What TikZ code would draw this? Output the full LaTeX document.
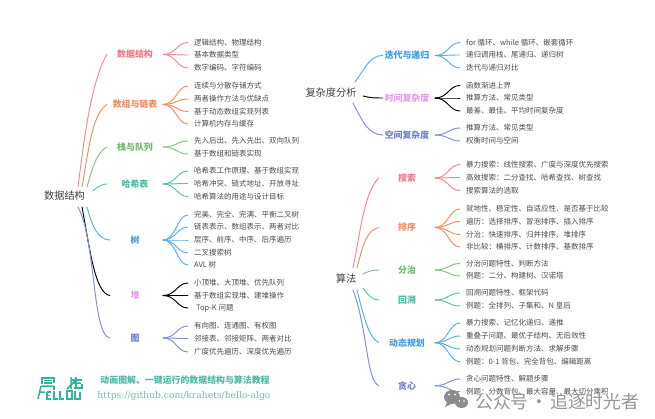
\documentclass[tikz,border=0pt]{standalone}
\usepackage{fontspec}
\setmainfont{Noto Sans CJK SC}
\newfontfamily\urlfont{DejaVu Serif}
\definecolor{red}{HTML}{F58A90}\definecolor{redT}{HTML}{F07C89}
\definecolor{ora}{HTML}{F68F62}\definecolor{oraT}{HTML}{F68C5E}
\definecolor{gre}{HTML}{85C481}\definecolor{greT}{HTML}{6DBB6A}
\definecolor{tea}{HTML}{5CC0AE}\definecolor{teaT}{HTML}{4DBAA6}
\definecolor{blu}{HTML}{5AAEE6}\definecolor{bluT}{HTML}{3F9BE0}
\definecolor{pin}{HTML}{E9ACEF}\definecolor{pinT}{HTML}{E39EEB}
\definecolor{ind}{HTML}{8090DE}\definecolor{indT}{HTML}{6C7FD8}
\definecolor{txt}{HTML}{4C4C4C}\definecolor{logo}{HTML}{2FB69C}
\definecolor{wm}{HTML}{8C8C8C}
\tikzset{
  branch/.style={line width=0.95pt,line cap=round},
  leaf/.style={anchor=west,font=\fontsize{7.5}{9}\selectfont,text=txt,inner xsep=6pt,inner ysep=0pt,text height=6.6pt,text depth=0.9pt},
  cat/.style={font=\bfseries\fontsize{8.9}{11}\selectfont,inner sep=0pt,text height=7.7pt,text depth=1.1pt,align=center},
  root/.style={font=\fontsize{10.2}{12}\selectfont,text=txt!85!black,inner sep=0pt},
  logoline/.style={draw=logo,line width=1.5pt,line cap=butt,line join=miter},
  wmshape/.style={fill=wm,draw=none}
}
\newcount\leafc
\newcommand{\Cat}[7]{\node[cat,text=#6T,minimum width=#4pt] (#1) at (#2,#3) {#7};\coordinate (#1f) at (#5,#3);}
\newcommand{\Leaf}[5]{\global\advance\leafc by 1
  \node[leaf] (l\the\leafc) at (#3,#4) {#5};
  \draw[branch,#2] (#1f) .. controls +(13,0) and +(-11,0) .. (l\the\leafc.west);}
\begin{document}
\begin{tikzpicture}[x=1pt,y=-1pt]
\useasboundingbox (0,0) rectangle (655,419);
\fill[white] (0,0) rectangle (655,419);
% ---------- left tree
\node[root] (rootL) at (64.5,196) {数据结构};
\coordinate (La) at (78,187);\coordinate (Lb) at (82,187);\coordinate (Lc) at (87,187);\coordinate (Ld) at (93,191);
\coordinate (Le) at (87,207);\coordinate (Lf) at (82,207);\coordinate (Lg) at (78,207);
\Cat{c1}{135}{54.5}{56}{163}{red}{数据结构}
\Cat{c2}{135}{104.5}{56}{163}{ora}{数组与链表}
\Cat{c3}{135}{147}{56}{163}{gre}{栈与队列}
\Cat{c4}{135}{184}{56}{163}{tea}{哈希表}
\Cat{c5}{135}{240}{50}{163}{blu}{树}
\Cat{c6}{135}{295.5}{50}{163}{pin}{堆}
\Cat{c7}{135}{338}{50}{163}{ind}{图}
\draw[branch,red] (La) .. controls (84,140) and (91,82) .. (c1.west);
\draw[branch,ora] (Lb) .. controls (89,148) and (92,115) .. (c2.west);
\draw[branch,gre] (Lc) .. controls (92,170) and (96,153) .. (c3.west);
\draw[branch,tea] (Ld) .. controls (97,187) and (102,184) .. (c4.west);
\draw[branch,blu] (Le) .. controls (92,226) and (98,240) .. (c5.west);
\draw[branch,pin] (Lf) .. controls (90,250) and (95,293) .. (c6.west);
\draw[branch,ind] (Lg) .. controls (96,240) and (92,335) .. (c7.west);
\Leaf{c1}{red}{188}{42.5}{逻辑结构、物理结构}
\Leaf{c1}{red}{188}{55}{基本数据类型}
\Leaf{c1}{red}{188}{68}{数字编码、字符编码}
\Leaf{c2}{ora}{188}{86}{连续与分散存储方式}
\Leaf{c2}{ora}{188}{99}{两者操作方法与优缺点}
\Leaf{c2}{ora}{188}{111.5}{基于动态数组实现列表}
\Leaf{c2}{ora}{188}{124}{计算机内存与缓存}
\Leaf{c3}{gre}{188}{141}{先入后出、先入先出、双向队列}
\Leaf{c3}{gre}{188}{154}{基于数组和链表实现}
\Leaf{c4}{tea}{188}{171}{哈希表工作原理、基于数组实现}
\Leaf{c4}{tea}{188}{183.5}{哈希冲突、链式地址、开放寻址}
\Leaf{c4}{tea}{188}{196.5}{哈希算法的用途与设计目标}
\Leaf{c5}{blu}{188}{215}{完美、完全、完满、平衡二叉树}
\Leaf{c5}{blu}{188}{227}{链表表示、数组表示、两者对比}
\Leaf{c5}{blu}{188}{240}{层序、前序、中序、后序遍历}
\Leaf{c5}{blu}{188}{253}{二叉搜索树}
\Leaf{c5}{blu}{188}{265}{AVL 树}
\Leaf{c6}{pin}{188}{283}{小顶堆、大顶堆、优先队列}
\Leaf{c6}{pin}{188}{295.5}{基于数组实现堆、建堆操作}
\Leaf{c6}{pin}{188}{308}{\hspace{2pt}Top-K 问题}
\Leaf{c7}{ind}{188}{326}{有向图、连通图、有权图}
\Leaf{c7}{ind}{188}{338.5}{邻接表、邻接矩阵、两者对比}
\Leaf{c7}{ind}{188}{352}{广度优先遍历、深度优先遍历}
% ---------- right top tree
\node[root] (rootC) at (331,92.5) {复杂度分析};
\coordinate (Ca) at (355,82);\coordinate (Cb) at (363,96);\coordinate (Cc) at (353,103);
\Cat{d1}{407}{55.5}{48}{435}{blu}{迭代与递归}
\Cat{d2}{407}{98}{48}{435}{pin}{时间复杂度}
\Cat{d3}{407}{135}{48}{435}{ind}{空间复杂度}
\draw[branch,blu] (Ca) .. controls (364,70) and (370,55) .. (d1.west);
\draw[branch,pin] (Cb) .. controls (370,98) and (376,98) .. (d2.west);
\draw[branch,ind] (Cc) .. controls (362,120) and (368,135) .. (d3.west);
\Leaf{d1}{blu}{460}{42.5}{for 循环、while 循环、嵌套循环}
\Leaf{d1}{blu}{460}{55}{递归调用栈、尾递归、递归树}
\Leaf{d1}{blu}{460}{68}{迭代与递归对比}
\Leaf{d2}{pin}{460}{85.5}{函数渐进上界}
\Leaf{d2}{pin}{460}{98}{推算方法、常见类型}
\Leaf{d2}{pin}{460}{111}{最差、最佳、平均时间复杂度}
\Leaf{d3}{ind}{460}{128}{推算方法、常见类型}
\Leaf{d3}{ind}{460}{141}{权衡时间与空间}
% ---------- right bottom tree
\node[root] (rootA) at (346,279) {算法};
\coordinate (Aa) at (353,268);\coordinate (Ab) at (357,268);\coordinate (Ac) at (363,274);
\coordinate (Ad) at (363,288);\coordinate (Ae) at (357,290);\coordinate (Af) at (353,290);
\Cat{e1}{407}{178}{56}{435}{red}{搜索}
\Cat{e2}{407}{227.5}{56}{435}{ora}{排序}
\Cat{e3}{407}{270}{56}{435}{gre}{分治}
\Cat{e4}{407}{300}{56}{435}{tea}{回溯}
\Cat{e5}{407}{342.7}{56}{435}{blu}{动态规划}
\Cat{e6}{407}{385.7}{56}{435}{ind}{贪心}
\draw[branch,red] (Aa) .. controls (360,235) and (364,192) .. (e1.west);
\draw[branch,ora] (Ab) .. controls (364,240) and (368,230) .. (e2.west);
\draw[branch,gre] (Ac) .. controls (369,271) and (373,270) .. (e3.west);
\draw[branch,tea] (Ad) .. controls (368,295) and (372,300) .. (e4.west);
\draw[branch,blu] (Ae) .. controls (364,318) and (369,338) .. (e5.west);
\draw[branch,ind] (Af) .. controls (368,330) and (366,380) .. (e6.west);
\Leaf{e1}{red}{460}{164.5}{暴力搜索：线性搜索、广度与深度优先搜索}
\Leaf{e1}{red}{460}{177.5}{高效搜索：二分查找、哈希查找、树查找}
\Leaf{e1}{red}{460}{190.5}{搜索算法的选取}
\Leaf{e2}{ora}{460}{209}{就地性、稳定性、自适应性、是否基于比较}
\Leaf{e2}{ora}{460}{221.5}{遍历：选择排序、冒泡排序、插入排序}
\Leaf{e2}{ora}{460}{234.5}{分治：快速排序、归并排序、堆排序}
\Leaf{e2}{ora}{460}{247}{非比较：桶排序、计数排序、基数排序}
\Leaf{e3}{gre}{460}{263.5}{分治问题特性、判断方法}
\Leaf{e3}{gre}{460}{276}{例题：二分、构建树、汉诺塔}
\Leaf{e4}{tea}{460}{293}{回溯问题特性、框架代码}
\Leaf{e4}{tea}{460}{306}{例题：全排列、子集和、N 皇后}
\Leaf{e5}{blu}{460}{323}{暴力搜索、记忆化递归、递推}
\Leaf{e5}{blu}{460}{336}{重叠子问题、最优子结构、无后效性}
\Leaf{e5}{blu}{460}{349}{动态规划问题判断方法、求解步骤}
\Leaf{e5}{blu}{460}{361.7}{例题：0-1 背包、完全背包、编辑距离}
\Leaf{e6}{ind}{460}{379}{贪心问题特性、解题步骤}
\Leaf{e6}{ind}{460}{391.7}{例题：分数背包、最大容量、最大切分乘积}
% ---------- logo
\draw[logoline] (42,378) -- (54,378) -- (54,383);
\draw[logoline] (42,377) -- (42,384);
\draw[logoline] (44,380.5) -- (52,380.5) (44,383) -- (52,383);
\draw[logoline] (41,386) -- (54,386) (41,386) -- (38,399) (39.5,392) -- (45,392);
\draw[logoline] (54,386) -- (54,390);
\draw[logoline] (47,392) -- (51,392) (47,392) -- (47,399) -- (51,399) (47,395.5) -- (50,395.5);
\draw[logoline] (54,391) -- (54,399) -- (58,399);
\draw[logoline] (60,391) -- (60,399) -- (64,399);
\draw[logoline] (67,391) rectangle (72,399);
\draw[logoline] (75,391) -- (75,399) -- (80,399) -- (80,392);
\draw[logoline] (71,377) -- (71,389) (67,389) -- (75,381) (71,383) -- (81,383);
\draw[logoline] (76,377) -- (76,387) (72,380) -- (82,380) (74,388) -- (82,388) -- (82,384);
% ---------- tagline
\node[font=\bfseries\fontsize{8.9}{10}\selectfont,text=teaT,inner sep=0pt] (tagline) at (185,380) {动画图解、一键运行的数据结构与算法教程};
\node[font=\urlfont\fontsize{9.2}{10}\selectfont,text=teaT!85!white,inner sep=0pt] (url) at (184,396) {https://github.com/krahets/hello-algo};
% ---------- watermark
\fill[wmshape] (452,397) ellipse (8 and 7);
\fill[wmshape] (461.5,402.5) ellipse (6.5 and 5.5);
\fill[wmshape] (447,402) -- (445,407) -- (451,404) -- cycle;
\fill[white] (449,394.5) circle (1) (455,394.5) circle (1) (459.5,401) circle (.8) (464,401) circle (.8);
\node[font=\fontsize{17.8}{20}\selectfont,text=wm,inner sep=0pt,anchor=west,opacity=.9] (wmtext) at (475,402) {公众号\hspace{2pt}·\hspace{2pt}追逐时光者};
\end{tikzpicture}
\end{document}
